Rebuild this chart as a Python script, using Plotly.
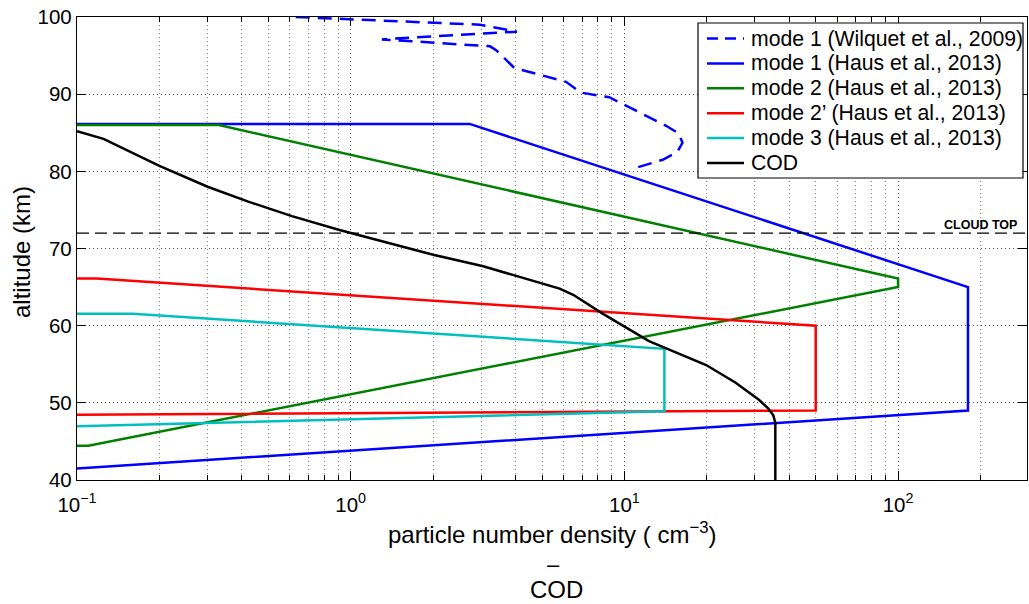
import plotly.graph_objects as go

# ---------------- data ----------------
wilquet_x = [0.63, 2.97, 4.05, 1.30, 3.23, 3.40, 3.96, 6.12, 6.95, 8.8, 14.2, 15.8, 16.3, 15.6, 13.8, 10.9]
wilquet_alt = [100.0, 99.0, 98.1, 97.1, 96.2, 95.7, 93.4, 91.6, 90.2, 89.6, 85.9, 84.9, 83.7, 82.5, 81.5, 80.4]

haus1_x = [0.1, 180, 180, 2.72, 0.1]
haus1_alt = [41.5, 49.0, 65.0, 86.15, 86.15]

haus2_x = [0.1, 0.11, 100, 100, 0.33, 0.1]
haus2_alt = [44.45, 44.45, 65.0, 66.1, 86.0, 86.0]

haus2p_x = [0.1, 50, 50, 0.118, 0.1]
haus2p_alt = [48.45, 49.0, 60.0, 66.1, 66.1]

haus3_x = [0.1, 14, 14, 0.16, 0.1]
haus3_alt = [46.97, 48.9, 57.0, 61.55, 61.55]

cod_x = [0.1, 0.125, 0.2, 0.3, 0.42, 0.61, 0.91, 1.08, 2.0, 3.05, 4.5, 5.8, 6.5,
         8.3, 12.3, 19.9, 25.5, 31.0, 33.5, 35.0, 35.6, 35.6]
cod_alt = [85.2, 84.2, 80.7, 78.0, 76.1, 74.2, 72.4, 71.7, 69.2, 67.7, 66.0, 64.8, 64.0,
           61.6, 58.0, 54.9, 52.6, 50.4, 49.3, 48.4, 47.4, 40.0]

cloud_top_alt = 72

names = ["mode 1 (Wilquet et al., 2009)", "mode 1 (Haus et al., 2013)",
         "mode 2 (Haus et al., 2013)", "mode 2\u2019 (Haus et al., 2013)",
         "mode 3 (Haus et al., 2013)", "COD"]
colors = ["#0000FF", "#0000FF", "#008000", "#FF0000", "#00BFBF", "#000000"]
dashes = ["14px,8px", "solid", "solid", "solid", "solid", "solid"]

xtick_vals = [0.1, 1, 10, 100]
xtick_text = ["10<sup>\u22121</sup>", "10<sup>0</sup>", "10<sup>1</sup>", "10<sup>2</sup>"]
xminor_vals = [m * d for d in (0.1, 1, 10) for m in range(2, 10)] + [200]
ytick_vals = [40, 50, 60, 70, 80, 90, 100]

# ---------------- layout geometry (pixels) ----------------
W, H = 1029, 604
L, R, T, B = 77, 1027, 17, 480


def px(xp):
    return (xp - L) / (R - L)


def py(yp):
    return (B - yp) / (B - T)


FONT = "Liberation Sans, Arial, Helvetica, sans-serif"

fig = go.Figure()
series = [(wilquet_x, wilquet_alt), (haus1_x, haus1_alt), (haus2_x, haus2_alt),
          (haus2p_x, haus2p_alt), (haus3_x, haus3_alt), (cod_x, cod_alt)]
for (xs, ys), nm, col, ds in zip(series, names, colors, dashes):
    fig.add_trace(go.Scatter(x=xs, y=ys, mode="lines", name=nm, showlegend=False,
                             line=dict(color=col, width=2.5, dash=ds)))

shapes = [dict(type="line", xref="paper", yref="y", x0=0, x1=1, y0=cloud_top_alt, y1=cloud_top_alt,
               line=dict(color="black", width=1.2, dash="12px,6px"))]

# manual legend
lg_l, lg_r, lg_t, lg_b = 698, 1023, 23, 178
shapes.append(dict(type="rect", xref="paper", yref="paper", x0=px(lg_l), x1=px(lg_r),
                   y0=py(lg_b), y1=py(lg_t), line=dict(color="black", width=1.2),
                   fillcolor="white", layer="above"))
annotations = []
for i, (nm, col, ds) in enumerate(zip(names, colors, dashes)):
    yc = 38.5 + 24.9 * i
    shapes.append(dict(type="line", xref="paper", yref="paper", x0=px(707), x1=px(744),
                       y0=py(yc), y1=py(yc), layer="above",
                       line=dict(color=col, width=2.5, dash=("11px,7px" if ds != "solid" else None))))
    annotations.append(dict(text=nm, xref="paper", yref="paper", x=px(749), y=py(yc),
                            xanchor="left", yanchor="middle", showarrow=False,
                            font=dict(size=21.2, color="black", family=FONT)))

annotations += [
    dict(text="<b>CLOUD TOP</b>", xref="paper", yref="paper", x=px(1019), y=py(225),
         xanchor="right", yanchor="middle", showarrow=False, font=dict(size=12.5, color="black", family=FONT)),
    dict(text="particle number density ( cm<sup>\u22123</sup>)", xref="paper", yref="paper",
         x=px(552), y=py(533), xanchor="center", yanchor="middle", showarrow=False,
         font=dict(size=24, color="black", family=FONT)),
    dict(text="\u2013", xref="paper", yref="paper", x=px(553), y=py(564), xanchor="center",
         yanchor="middle", showarrow=False, font=dict(size=22, color="black", family=FONT)),
    dict(text="COD", xref="paper", yref="paper", x=px(556), y=py(589), xanchor="center",
         yanchor="middle", showarrow=False, font=dict(size=24, color="black", family=FONT)),
    dict(text="altitude (km)", xref="paper", yref="paper", x=px(21), y=py(252), textangle=-90,
         xanchor="center", yanchor="middle", showarrow=False, font=dict(size=24, color="black", family=FONT)),
]

fig.update_layout(
    width=W, height=H,
    margin=dict(l=L, r=W - R, t=T, b=H - B, pad=0),
    paper_bgcolor="white", plot_bgcolor="white",
    font=dict(family=FONT, size=20, color="black"),
    shapes=shapes, annotations=annotations,
    xaxis=dict(type="log", range=[-1, 2.471], tickvals=xtick_vals, ticktext=xtick_text,
               ticks="inside", ticklen=9, tickcolor="black", tickwidth=1,
               showline=True, linecolor="black", linewidth=1.3, mirror="ticks",
               showgrid=True, gridcolor="#555", gridwidth=1, griddash="1px,3px",
               tickfont=dict(size=20.5), zeroline=False, ticklabelstandoff=6,
               minor=dict(tickvals=xminor_vals, ticks="inside", ticklen=5, tickcolor="black",
                          showgrid=True, gridcolor="#888", gridwidth=1, griddash="1px,3px")),
    yaxis=dict(range=[40, 100], tickvals=ytick_vals, ticks="inside", ticklen=9, tickcolor="black",
               showline=True, linecolor="black", linewidth=1.3, mirror="ticks",
               showgrid=True, gridcolor="#555", gridwidth=1, griddash="1px,3px",
               tickfont=dict(size=20.5), zeroline=False),
)

fig.write_html("out.html")
